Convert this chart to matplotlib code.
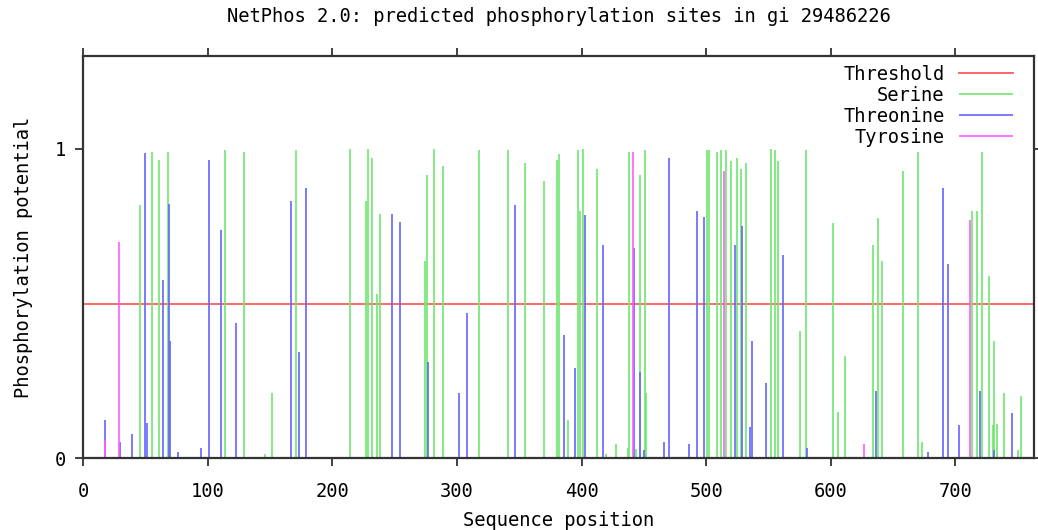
"""NetPhos 2.0 phosphorylation-site plot, redrawn with matplotlib."""
import matplotlib
matplotlib.use("Agg")
import matplotlib.pyplot as plt

TITLE = "NetPhos 2.0: predicted phosphorylation sites in gi 29486226"
THRESHOLD = 0.5
SEQ_LEN = 763

serine_pos = [46, 55, 61, 68, 114, 129, 146, 152, 171, 214, 227, 229, 232, 236, 238,
              274, 276, 282, 289, 318, 341, 355, 370, 380, 382, 389, 397, 399, 401,
              412, 420, 428, 437, 438, 444, 447, 451, 452, 501, 502, 509, 512, 516,
              520, 525, 528, 532, 552, 555, 558, 575, 580, 602, 606, 611, 634, 638,
              641, 658, 670, 673, 713, 717, 721, 727, 730, 731, 733, 739, 750, 753]
serine_score = [0.82, 0.99, 0.965, 0.99, 0.995, 0.99, 0.014, 0.21, 0.995, 1.0, 0.83,
                1.0, 0.97, 0.53, 0.79, 0.636, 0.917, 1.0, 0.946, 0.995, 0.995, 0.953,
                0.897, 0.964, 0.984, 0.124, 0.995, 0.80, 1.0, 0.935, 0.014, 0.045,
                0.032, 0.99, 0.03, 0.915, 0.995, 0.21, 0.995, 0.995, 0.99, 0.995,
                0.995, 0.96, 0.97, 0.935, 0.955, 1.0, 0.995, 0.96, 0.41, 0.995, 0.76,
                0.149, 0.33, 0.69, 0.775, 0.636, 0.928, 0.99, 0.052, 0.80, 0.80, 0.99,
                0.588, 0.108, 0.378, 0.11, 0.21, 0.027, 0.2]

threonine_pos = [18, 30, 39, 50, 51, 64, 69, 70, 76, 95, 101, 111, 123, 167, 173, 179,
                 248, 254, 277, 302, 308, 347, 386, 395, 403, 417, 442, 447, 450, 466,
                 470, 486, 493, 498, 523, 529, 535, 537, 548, 562, 581, 636, 678, 690,
                 694, 703, 720, 731, 745]
threonine_score = [0.124, 0.054, 0.078, 0.985, 0.113, 0.577, 0.823, 0.38, 0.02, 0.032,
                   0.965, 0.737, 0.437, 0.83, 0.342, 0.873, 0.79, 0.763, 0.31, 0.21,
                   0.47, 0.817, 0.397, 0.293, 0.787, 0.688, 0.68, 0.28, 0.027, 0.052,
                   0.97, 0.046, 0.80, 0.78, 0.69, 0.75, 0.10, 0.38, 0.243, 0.658, 0.032,
                   0.218, 0.02, 0.874, 0.628, 0.108, 0.218, 0.027, 0.146]

tyrosine_pos = [18, 29, 441, 514, 627, 712]
tyrosine_score = [0.06, 0.70, 0.99, 0.928, 0.045, 0.77]

X_TICKS = [0, 100, 200, 300, 400, 500, 600, 700]
Y_TICKS = [0, 1]

RED, GREEN, BLUE, MAGENTA = "#ff5a5a", "#6ee86e", "#6464ff", "#ff5cff"
FONT = {"family": "DejaVu Sans Mono", "size": 13.5}

fig = plt.figure(figsize=(10.38, 5.30), dpi=100)
ax = fig.add_axes([0.080, 0.1353, 0.9161, 0.7590])

ax.axhline(THRESHOLD, color=RED, lw=1.3, label="Threshold")
ax.vlines(serine_pos, 0, serine_score, colors=GREEN, lw=1.2, label="Serine")
ax.vlines(threonine_pos, 0, threonine_score, colors=BLUE, lw=1.2, label="Threonine")
ax.vlines(tyrosine_pos, 0, tyrosine_score, colors=MAGENTA, lw=1.2, label="Tyrosine")

ax.set_xlim(0, SEQ_LEN)
ax.set_ylim(0, 1.3)
ax.set_xticks(X_TICKS)
ax.set_yticks(Y_TICKS)
ax.tick_params(direction="out", length=6, width=1.3, colors="#333333",
               top=True, right=True, labeltop=False, labelright=False)
ax.tick_params(axis="x", pad=11)
ax.tick_params(axis="y", pad=6)
for lab in ax.get_xticklabels() + ax.get_yticklabels():
    lab.set_fontfamily(FONT["family"])
    lab.set_fontsize(FONT["size"])
    lab.set_color("black")
for s in ax.spines.values():
    s.set_linewidth(1.6)
    s.set_color("#333333")

ax.set_xlabel("Sequence position", fontdict=FONT)
ax.xaxis.set_label_coords(0.5, -0.131)
ax.set_ylabel("Phosphorylation potential", fontdict=FONT)
ax.yaxis.set_label_coords(-0.053, 0.5)

fig.text(559 / 1038, 1 - 17 / 530, TITLE, ha="center", va="center", **FONT)

leg = ax.legend(loc="upper right", bbox_to_anchor=(1013 / 1038, 1 - 65 / 530),
                bbox_transform=fig.transFigure, frameon=False, markerfirst=False,
                borderaxespad=0, borderpad=0, handlelength=2.9, handletextpad=0.75,
                labelspacing=0.1, prop=FONT)

fig.savefig("out.png", dpi=100)
